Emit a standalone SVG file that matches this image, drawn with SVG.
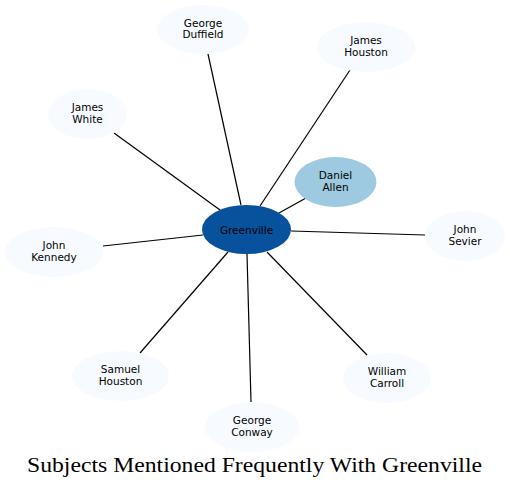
<svg xmlns="http://www.w3.org/2000/svg" width="510" height="487" viewBox="0 0 510 487">
<style>
.edge{stroke:#000;stroke-width:1.2;fill:none}
.leaf{fill:#f7fbff;stroke:none}
.lbl{font-family:"DejaVu Sans",sans-serif;font-size:10.5px;fill:#000;text-anchor:middle}
.title{font-family:"Liberation Serif","DejaVu Serif",serif;font-size:20px;fill:#000;text-anchor:middle}
</style>
<rect width="510" height="487" fill="#fff"/>
<g id="edges">
<line class="edge" x1="241" y1="205" x2="208" y2="54"/>
<line class="edge" x1="260" y1="206" x2="350" y2="70"/>
<line class="edge" x1="220" y1="210" x2="114" y2="133"/>
<line class="edge" x1="279" y1="213" x2="306" y2="198"/>
<line class="edge" x1="291" y1="231" x2="425" y2="235"/>
<line class="edge" x1="203" y1="235" x2="103" y2="246"/>
<line class="edge" x1="228" y1="252" x2="140" y2="353"/>
<line class="edge" x1="247" y1="254" x2="251" y2="402"/>
<line class="edge" x1="267" y1="252" x2="367" y2="355"/>
</g>
<g id="greenville"><ellipse cx="246.5" cy="229.5" rx="44.5" ry="24.5" fill="#08519c"/><text class="lbl" x="246.5" y="233.5">Greenville</text></g>
<g id="daniel-allen"><ellipse cx="335.5" cy="182" rx="41" ry="25" fill="#9ecae1"/><text class="lbl" x="335.5" y="179">Daniel</text><text class="lbl" x="335.5" y="190.5">Allen</text></g>
<g id="george-duffield"><ellipse class="leaf" cx="203" cy="29.5" rx="46" ry="24.5"/><text class="lbl" x="203" y="26.5">George</text><text class="lbl" x="203" y="38">Duffield</text></g>
<g id="james-houston"><ellipse class="leaf" cx="366" cy="47" rx="49" ry="25"/><text class="lbl" x="366" y="44">James</text><text class="lbl" x="366" y="55.5">Houston</text></g>
<g id="james-white"><ellipse class="leaf" cx="87.5" cy="114" rx="39.5" ry="25"/><text class="lbl" x="87.5" y="111">James</text><text class="lbl" x="87.5" y="122.5">White</text></g>
<g id="john-kennedy"><ellipse class="leaf" cx="54" cy="252" rx="49" ry="25"/><text class="lbl" x="54" y="249">John</text><text class="lbl" x="54" y="260.5">Kennedy</text></g>
<g id="john-sevier"><ellipse class="leaf" cx="465" cy="236" rx="40" ry="25"/><text class="lbl" x="465" y="233">John</text><text class="lbl" x="465" y="244.5">Sevier</text></g>
<g id="samuel-houston"><ellipse class="leaf" cx="120.5" cy="376" rx="48.5" ry="25"/><text class="lbl" x="120.5" y="373">Samuel</text><text class="lbl" x="120.5" y="384.5">Houston</text></g>
<g id="george-conway"><ellipse class="leaf" cx="252" cy="427" rx="47" ry="25"/><text class="lbl" x="252" y="424">George</text><text class="lbl" x="252" y="435.5">Conway</text></g>
<g id="william-carroll"><ellipse class="leaf" cx="387" cy="378" rx="44" ry="25"/><text class="lbl" x="387" y="375">William</text><text class="lbl" x="387" y="386.5">Carroll</text></g>
<text class="title" x="254.5" y="472" textLength="455" lengthAdjust="spacingAndGlyphs">Subjects Mentioned Frequently With Greenville</text>
</svg>
